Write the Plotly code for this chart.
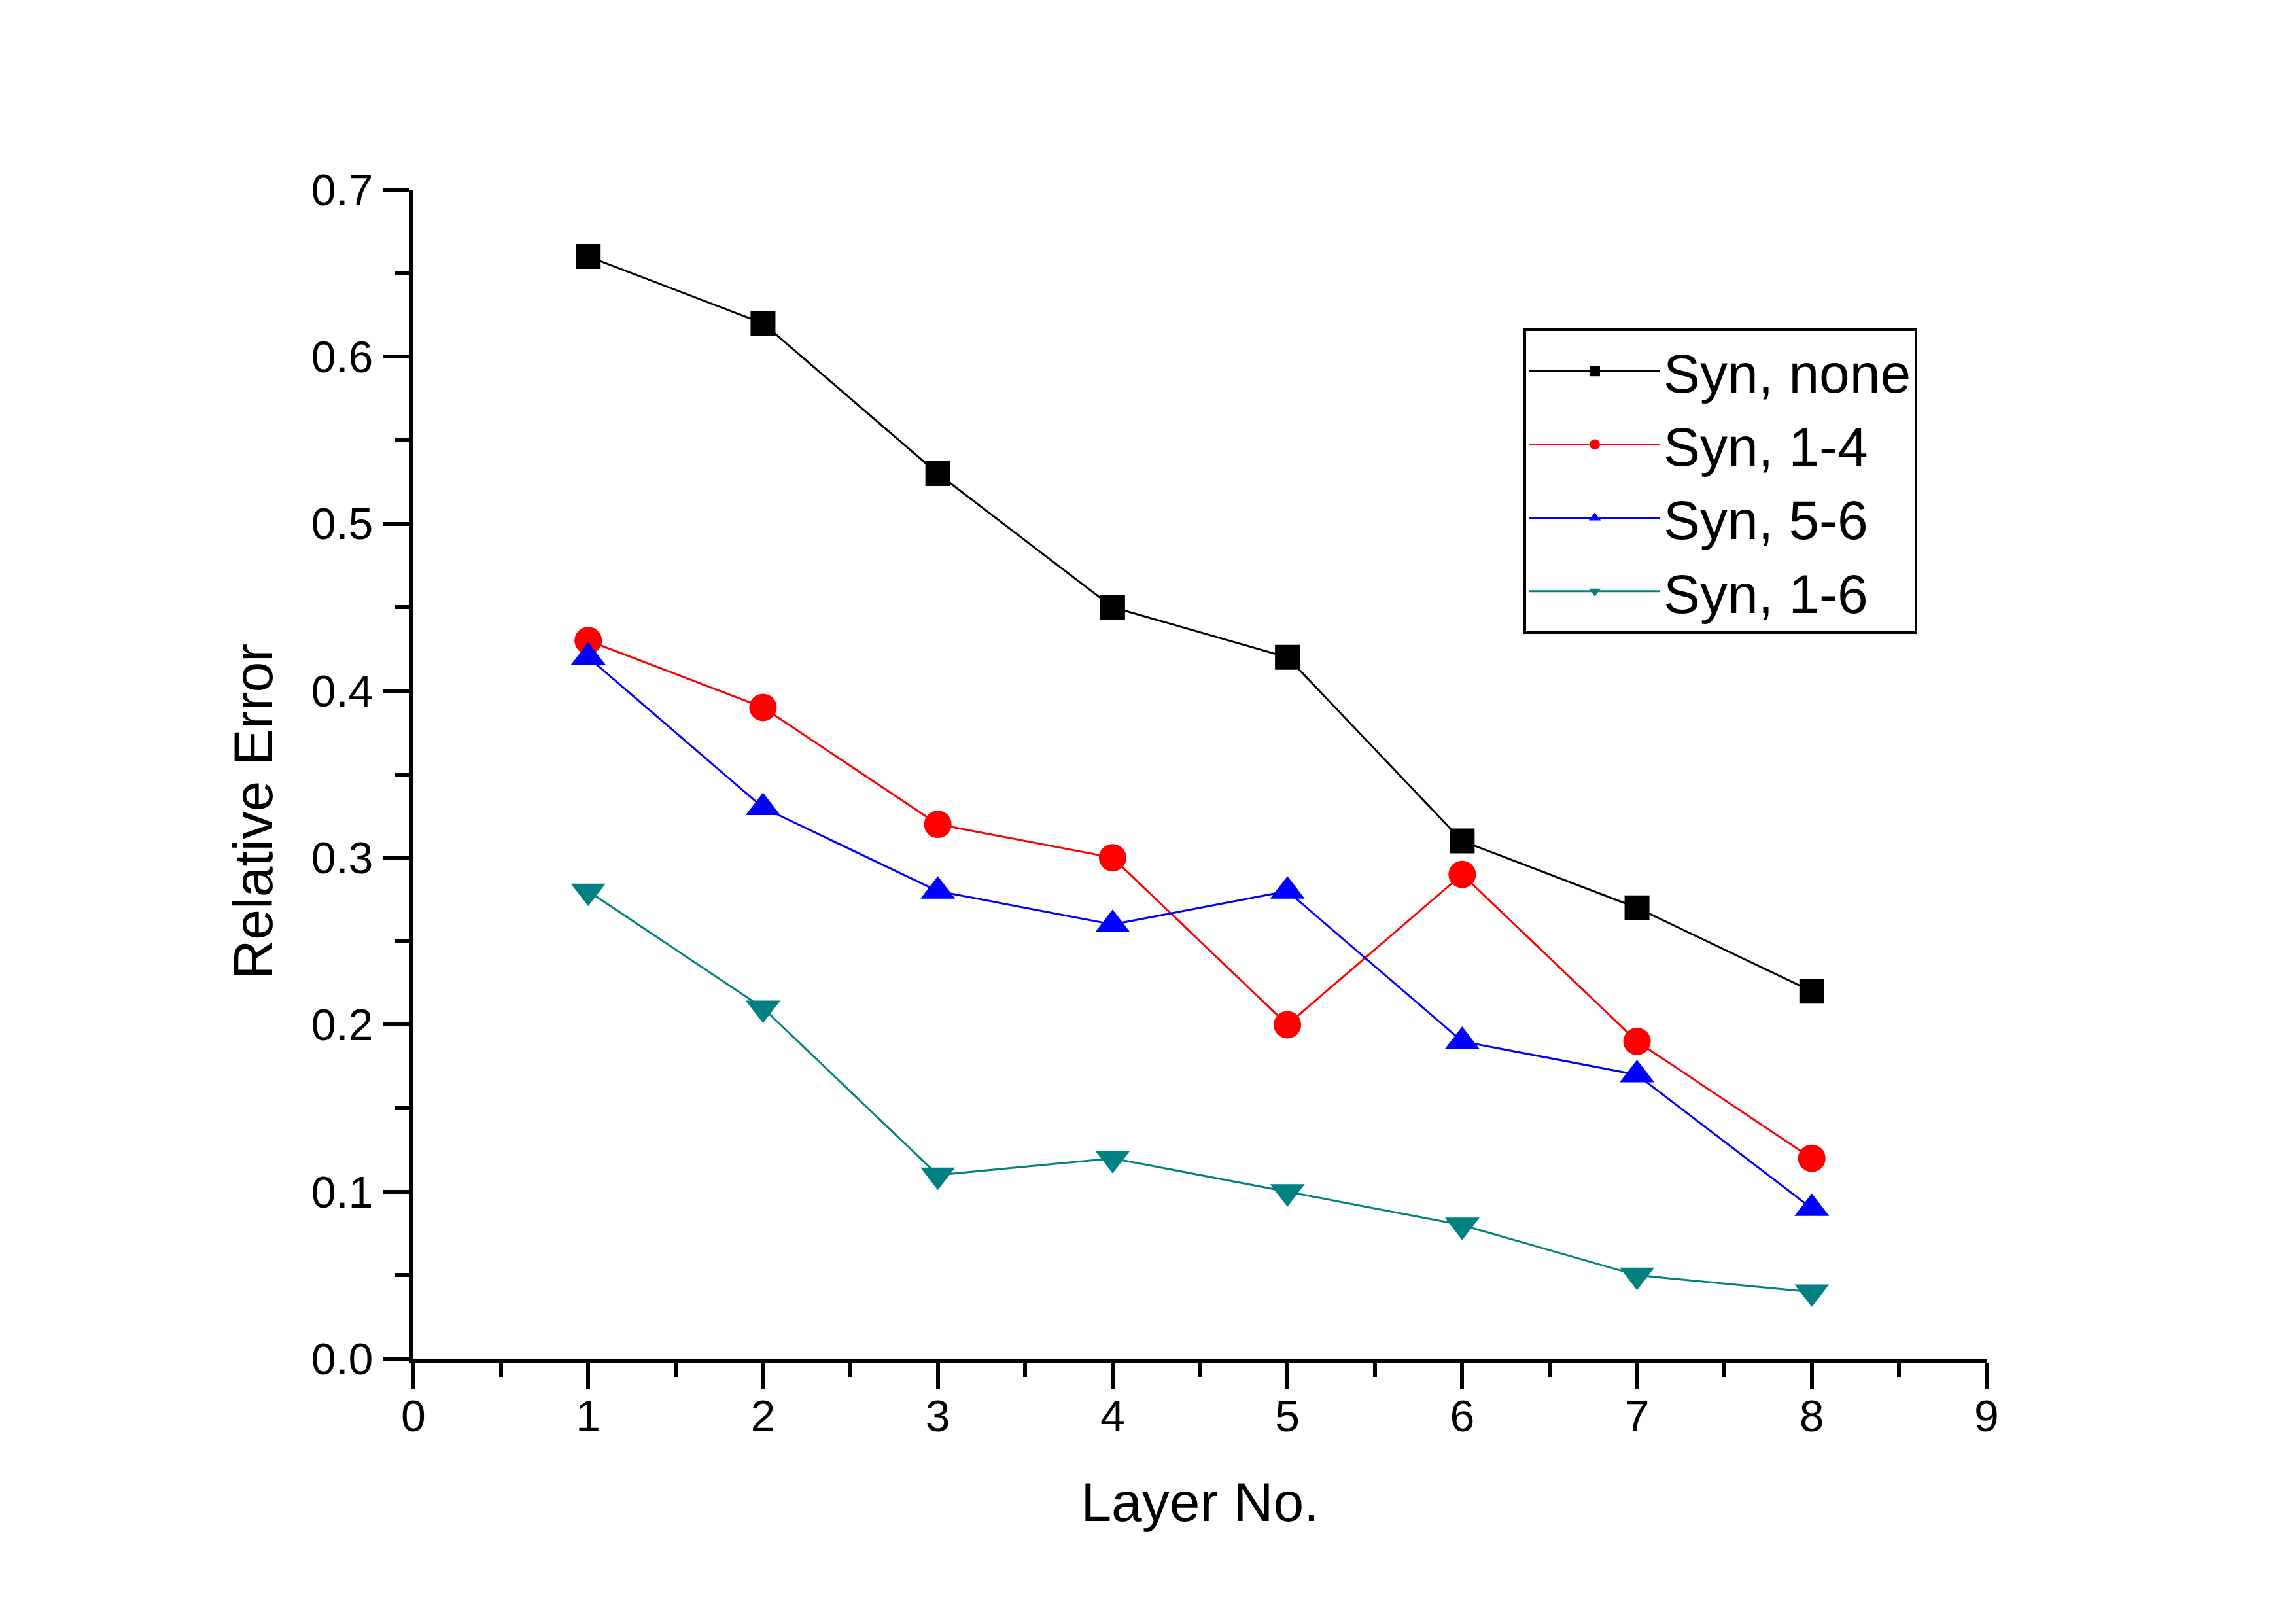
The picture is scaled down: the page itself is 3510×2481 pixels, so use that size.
import plotly.graph_objects as go

layers = [1, 2, 3, 4, 5, 6, 7, 8]
syn_none = [0.66, 0.62, 0.53, 0.45, 0.42, 0.31, 0.27, 0.22]
syn_1_4 = [0.43, 0.39, 0.32, 0.30, 0.20, 0.29, 0.19, 0.12]
syn_5_6 = [0.42, 0.33, 0.28, 0.26, 0.28, 0.19, 0.17, 0.09]
syn_1_6 = [0.28, 0.21, 0.11, 0.12, 0.10, 0.08, 0.05, 0.04]

series = [
    ("Syn, none", syn_none, "black", "square", 38),
    ("Syn, 1-4", syn_1_4, "#FF0000", "circle", 42),
    ("Syn, 5-6", syn_5_6, "#0000FF", "triangle-up", 46),
    ("Syn, 1-6", syn_1_6, "#008080", "triangle-down", 46),
]

fig = go.Figure()
for name, vals, color, symbol, size in series:
    fig.add_trace(go.Scatter(x=layers, y=vals, name=name, mode="lines+markers",
                             line=dict(color=color, width=3),
                             marker=dict(symbol=symbol, size=size, color=color,
                                         line=dict(width=0))))

font = "Liberation Sans, Arial, sans-serif"
# page body has an 8px margin, so the figure is 16px smaller than the window
fig.update_layout(
    width=3494, height=2465,
    margin=dict(l=624, r=465, t=282, b=396),
    plot_bgcolor="white", paper_bgcolor="white",
    font=dict(family=font, size=68, color="black"),
    legend=dict(x=0.7056, y=0.8813, xanchor="left", yanchor="top",
                bordercolor="black", borderwidth=4, bgcolor="white",
                font=dict(size=84), itemwidth=200, tracegroupgap=0),
    annotations=[dict(text="Relative Error", xref="paper", yref="paper",
                      x=-0.102, y=0.468, xanchor="center", yanchor="middle",
                      textangle=-90, showarrow=False, font=dict(size=84))],
)

axis_common = dict(showline=True, linecolor="black", linewidth=6,
                   ticks="outside", ticklen=40, tickwidth=6, tickcolor="black",
                   showgrid=False, zeroline=False)

fig.update_xaxes(range=[0, 9], dtick=1, tick0=0, ticklabelstandoff=-17,
                 minor=dict(dtick=0.5, ticks="outside", ticklen=22, tickwidth=6,
                            tickcolor="black", showgrid=False),
                 title=dict(text="Layer No.", font=dict(size=84), standoff=68),
                 **axis_common)
fig.update_yaxes(range=[0, 0.7], dtick=0.1, tick0=0, tickformat=".1f",
                 ticklabelstandoff=2,
                 minor=dict(dtick=0.05, ticks="outside", ticklen=22, tickwidth=6,
                            tickcolor="black", showgrid=False),
                 **axis_common)

fig.write_html("out.html")
